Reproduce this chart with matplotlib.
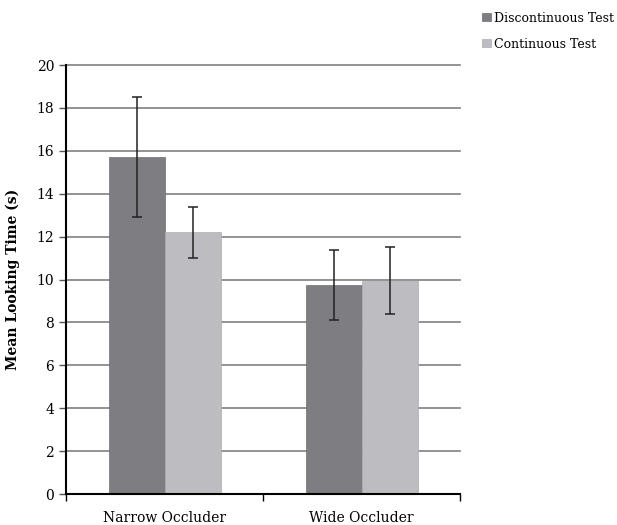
import numpy as np
from matplotlib import pyplot as plt
from matplotlib.ticker import FixedLocator

# looking-time means and error bars per occluder condition
conditions = ['Narrow Occluder', 'Wide Occluder']
discontinuous = [15.7, 9.75]
discontinuous_err = [2.8, 1.63]
continuous = [12.2, 9.95]
continuous_err = [1.2, 1.55]

plt.rcParams['font.family'] = ['DejaVu Serif']

fig = plt.figure(figsize=(6.17, 5.25), dpi=100)
ax = fig.add_axes([0.107, 0.059, 0.639, 0.817])

x = np.arange(len(conditions))
w = 0.284
err_kw = dict(ecolor='#222222', elinewidth=1.1, capsize=3.5, capthick=1.1)
b1 = ax.bar(x - w / 2, discontinuous, w, yerr=discontinuous_err, color='#7e7e82',
            edgecolor='#6e6e72', linewidth=0.5, label='Discontinuous Test', error_kw=err_kw, zorder=2)
b2 = ax.bar(x + w / 2, continuous, w, yerr=continuous_err, color='#bdbdc1',
            edgecolor='#adadb1', linewidth=0.5, label='Continuous Test', error_kw=err_kw, zorder=2)

ax.set_xlim(-0.5, 1.5)
ax.set_ylim(0, 20)
ax.set_yticks(np.arange(0, 21, 2))
ax.yaxis.grid(True, color='#808080', linewidth=1.2, zorder=0, clip_on=False)
ax.set_axisbelow(True)

ax.set_xticks(x)
ax.set_xticklabels(conditions, fontsize=10)
ax.xaxis.set_minor_locator(FixedLocator([-0.5, 0.5, 1.5]))
ax.tick_params(axis='x', which='major', length=0, pad=12)
ax.tick_params(axis='x', which='minor', length=5, width=1, color='black')
ax.tick_params(axis='y', length=5, width=1, color='#555555', labelsize=10)

for s in ['top', 'right']:
    ax.spines[s].set_visible(False)
ax.spines['left'].set_linewidth(1.5)
ax.spines['bottom'].set_linewidth(1.5)

ax.set_ylabel('Mean Looking Time (s)', fontsize=10, fontweight='bold', labelpad=12)

fig.legend(handles=[b1, b2], loc='upper left', bbox_to_anchor=(0.782, 0.978),
           frameon=False, fontsize=9, handlelength=0.65, handleheight=0.65,
           handletextpad=0.3, labelspacing=1.05, borderpad=0, borderaxespad=0)

plt.savefig('out.png', dpi=100)
